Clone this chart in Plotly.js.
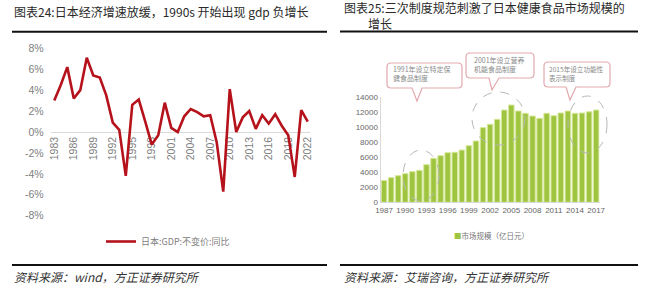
<!DOCTYPE html>
<html><head><meta charset="utf-8">
<script src="https://cdn.plot.ly/plotly-3.0.1.min.js"></script>
<style>html,body{margin:0;padding:0;background:#fff}#c{width:660px;height:298px}</style>
</head><body><div id="c"></div>
<script>
// ---- data ----
const gdpYears = [1983,1984,1985,1986,1987,1988,1989,1990,1991,1992,1993,1994,1995,1996,1997,1998,1999,2000,2001,2002,2003,2004,2005,2006,2007,2008,2009,2010,2011,2012,2013,2014,2015,2016,2017,2018,2019,2020,2021,2022];
const gdpGrowth = [3.0,4.5,6.2,3.2,4.0,7.1,5.4,5.2,3.5,0.9,0.2,-4.2,2.6,3.1,1.0,-1.2,-0.3,2.8,0.4,0.0,1.5,2.2,1.9,1.5,1.6,-1.0,-5.7,4.1,0.0,1.4,2.0,0.3,1.6,0.8,1.7,0.6,-0.3,-4.3,2.1,1.0];
const gdpTicks = [1983,1986,1989,1992,1995,1998,2001,2004,2007,2010,2013,2016,2019,2022];
const gdpYTicks = [-8,-6,-4,-2,0,2,4,6,8];
const mktYears = [1987,1988,1989,1990,1991,1992,1993,1994,1995,1996,1997,1998,1999,2000,2001,2002,2003,2004,2005,2006,2007,2008,2009,2010,2011,2012,2013,2014,2015,2016,2017];
const mktSize = [2900,3270,3530,3800,4060,4240,4990,5830,6180,6580,6630,6930,7500,8130,9900,10340,11000,12230,12900,12100,11800,11440,11130,11800,11480,11840,12100,11800,11840,12000,12230];
const mktTicks = [1987,1990,1993,1996,1999,2002,2005,2008,2011,2014,2017];
const mktYTicks = [0,2000,4000,6000,8000,10000,12000,14000];
const lineName = '日本:GDP:不变价:同比';
const barName = '市场规模（亿日元）';
const title24 = '图表24:日本经济增速放缓，1990s 开始出现 gdp 负增长';
const title25a = '图表25:三次制度规范刺激了日本健康食品市场规模的';
const title25b = '增长';
const src24 = '资料来源：wind，方正证券研究所';
const src25 = '资料来源：艾瑞咨询，方正证券研究所';
const notes = [
  ['1991年设立特定保','健食品制度'],
  ['2001年设立营养','机能食品制度'],
  ['2015年设立功能性','表示制度']
];

// ---- helpers (pixel -> paper) ----
const W = 660, H = 298;
const px = x => x / W;
const py = y => 1 - y / H;
function P(x, y){ return px(x).toFixed(5) + ',' + py(y).toFixed(5); }
function bubble(x0,y0,x1,y1,t0,t1,ax,ay){
  const r = 4;
  return 'M' + P(x0+r,y0) + ' L' + P(x1-r,y0) + ' Q' + P(x1,y0) + ' ' + P(x1,y0+r) +
    ' L' + P(x1,y1-r) + ' Q' + P(x1,y1) + ' ' + P(x1-r,y1) +
    ' L' + P(t1,y1) + ' L' + P(ax,ay) + ' L' + P(t0,y1) +
    ' L' + P(x0+r,y1) + ' Q' + P(x0,y1) + ' ' + P(x0,y1-r) +
    ' L' + P(x0,y0+r) + ' Q' + P(x0,y0) + ' ' + P(x0+r,y0) + ' Z';
}

const cjk = '"Noto Sans CJK SC", "Liberation Sans", sans-serif';
const latin = '"Liberation Sans", "Noto Sans CJK SC", sans-serif';
const narrow = '"Liberation Sans Narrow", "Liberation Sans", sans-serif';
const greenCol = '#9fc43f';

const traces = [
  {type:'scatter', mode:'lines', x:gdpYears, y:gdpGrowth, name:lineName,
   line:{color:'#b5121b', width:2.6}, xaxis:'x', yaxis:'y', showlegend:true},
  {type:'bar', x:mktYears, y:mktSize, name:barName, xaxis:'x2', yaxis:'y2', showlegend:false,
   marker:{color:greenCol, line:{color:'#d6e99c', width:1}}}
];

const shapes = [
  {type:'line', xref:'paper', yref:'paper', x0:px(12), x1:px(327), y0:py(31.7), y1:py(31.7), line:{color:'#111', width:2}},
  {type:'line', xref:'paper', yref:'paper', x0:px(340), x1:px(638), y0:py(31.5), y1:py(31.5), line:{color:'#111', width:2}},
  {type:'line', xref:'paper', yref:'paper', x0:px(12), x1:px(327), y0:py(265), y1:py(265), line:{color:'#111', width:2}},
  {type:'line', xref:'paper', yref:'paper', x0:px(340), x1:px(638), y0:py(265), y1:py(265), line:{color:'#111', width:2}},
  // dashed circles
  {type:'circle', xref:'paper', yref:'paper', x0:px(403), x1:px(439), y0:py(150), y1:py(201), line:{color:'#b8b8b8', width:1, dash:'dash'}},
  {type:'circle', xref:'paper', yref:'paper', x0:px(472), x1:px(525), y0:py(92), y1:py(145), line:{color:'#b8b8b8', width:1, dash:'dash'}},
  {type:'circle', xref:'paper', yref:'paper', x0:px(568), x1:px(607), y0:py(96), y1:py(153), line:{color:'#b8b8b8', width:1, dash:'dash'}},
  // bubbles
  {type:'path', xref:'paper', yref:'paper', path:bubble(387,63,462,88,412,422,417,101), fillcolor:'#fff', line:{color:'#e2a9ae', width:1.2}},
  {type:'path', xref:'paper', yref:'paper', path:bubble(466,53,534,78,489,499,492,90), fillcolor:'#fff', line:{color:'#e2a9ae', width:1.2}},
  {type:'path', xref:'paper', yref:'paper', path:bubble(544,62,610,87,566,576,570,100), fillcolor:'#fff', line:{color:'#e2a9ae', width:1.2}}
];

function txt(text, x, y, size, opts){
  return Object.assign({xref:'paper', yref:'paper', x:px(x), y:py(y), text:text, showarrow:false,
    xanchor:'left', yanchor:'middle', font:{family:cjk, size:size, color:'#333'}}, opts||{});
}
const annotations = [
  txt(title24, 12, 12, 12, {font:{family:cjk, size:12, color:'#2a2a2a'}}),
  txt(title25a, 342, 7.5, 12, {font:{family:cjk, size:12, color:'#2a2a2a'}}),
  txt(title25b, 366, 23, 12, {font:{family:cjk, size:12, color:'#2a2a2a'}}),
  txt('<i>' + src24 + '</i>', 12, 276, 12, {font:{family:cjk, size:12, color:'#333'}}),
  txt('<i>' + src25 + '</i>', 342, 276, 12, {font:{family:cjk, size:12, color:'#333'}}),
  txt(notes[0][0] + '<br>' + notes[0][1], 391, 74, 7, {font:{family:cjk, size:7, color:'#888'}, align:'left'}),
  txt(notes[1][0] + '<br>' + notes[1][1], 472, 64.5, 7, {font:{family:cjk, size:7, color:'#888'}, align:'left'}),
  txt(notes[2][0] + '<br>' + notes[2][1], 547, 73, 6.6, {font:{family:cjk, size:6.6, color:'#888'}, align:'left'}),
  txt('<span style="color:' + greenCol + '">■</span>' + barName, 452, 235, 7.5, {font:{family:cjk, size:7.5, color:'#777'}})
];

const layout = {
  width: W, height: H, margin:{l:0, r:0, t:0, b:0},
  paper_bgcolor:'#fff', plot_bgcolor:'rgba(0,0,0,0)',
  xaxis:{domain:[px(50.7), px(310)], range:[1982.45, 2022.35], anchor:'free', position:py(131.7),
    tickmode:'array', tickvals:gdpTicks, ticktext:gdpTicks.map(String), tickangle:-90,
    showgrid:false, zeroline:false, showline:true, linecolor:'#d9d9d9', linewidth:1,
    ticks:'', layer:'below traces', tickfont:{family:latin, size:10.5, color:'#808080'}},
  yaxis:{domain:[py(215.7), py(48.3)], range:[-8, 8], anchor:'x',
    tickmode:'array', tickvals:gdpYTicks, ticktext:gdpYTicks.map(v => v + '%'),
    showgrid:false, zeroline:false, showline:false, ticks:'', ticklabelstandoff:6,
    tickfont:{family:narrow, size:10.5, color:'#808080'}},
  xaxis2:{domain:[px(380.5), px(599.7)], range:[1986.5, 2017.5], anchor:'y2',
    tickmode:'array', tickvals:mktTicks, ticktext:mktTicks.map(String),
    showgrid:false, zeroline:false, showline:true, linecolor:'#d9d9d9', ticks:'',
    tickfont:{family:latin, size:8, color:'#666'}},
  yaxis2:{domain:[py(202.3), py(96.7)], range:[0, 14000], anchor:'x2',
    tickmode:'array', tickvals:mktYTicks, ticktext:mktYTicks.map(String),
    showgrid:false, zeroline:false, showline:true, linecolor:'#d9d9d9', ticks:'',
    tickfont:{family:latin, size:8, color:'#666'}},
  bargap:0.22,
  showlegend:true,
  legend:{x:px(101), y:py(227), xanchor:'left', yanchor:'top', orientation:'h',
    bgcolor:'rgba(0,0,0,0)', borderwidth:0, itemwidth:30,
    font:{family:cjk, size:9, color:'#808080'}},
  shapes: shapes,
  annotations: annotations
};

Plotly.newPlot('c', traces, layout, {displayModeBar:false, staticPlot:true});
</script></body></html>
